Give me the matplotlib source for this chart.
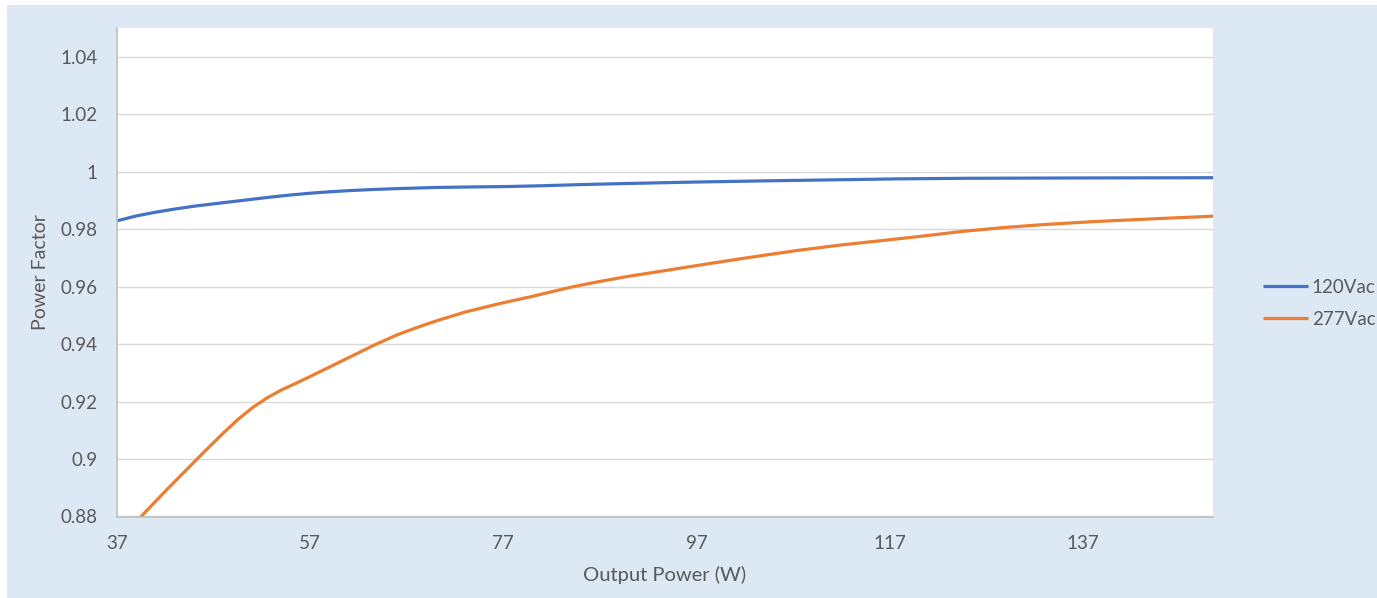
import matplotlib.pyplot as plt
from matplotlib.patches import Rectangle
from matplotlib.ticker import FuncFormatter

plt.rcParams['font.family'] = ['Lato', 'DejaVu Sans']

# power factor vs output power, two input voltages
power_120 = [37, 39, 41, 43, 45, 47.5, 50, 52.5, 55, 57, 59, 61, 63.5, 66, 70, 74, 77,
             81, 85, 90, 97, 104, 110, 118, 125, 135, 150.5]
pf_120 = [0.9829, 0.9846, 0.9859, 0.9870, 0.9880, 0.9890, 0.9900, 0.9910, 0.9919,
          0.9925, 0.9930, 0.9934, 0.9938, 0.9941, 0.9945, 0.9947, 0.9948, 0.9951,
          0.9955, 0.9959, 0.9964, 0.9968, 0.9971, 0.9975, 0.9977, 0.9978, 0.9979]

power_277 = [37, 39.5, 42, 44, 46, 48, 49.5, 51, 52.5, 54, 55.5, 57, 59, 61, 63.6, 66,
             68, 70, 73, 76.5, 80, 84, 87, 90, 94, 97, 101, 104, 107.5, 112, 117, 121,
             124.5, 129, 133, 138, 145, 150.5]
pf_277 = [0.8715, 0.8800, 0.8888, 0.8956, 0.9024, 0.9090, 0.9137, 0.9178, 0.9212,
          0.9240, 0.9263, 0.9287, 0.9320, 0.9353, 0.9396, 0.9432, 0.9457, 0.9480,
          0.9511, 0.9540, 0.9566, 0.9598, 0.9618, 0.9636, 0.9657, 0.9673, 0.9694,
          0.9709, 0.9726, 0.9745, 0.9763, 0.9778, 0.9792, 0.9806, 0.9816, 0.9826,
          0.9837, 0.9845]

x_ticks = [37, 57, 77, 97, 117, 137]
y_ticks = [0.88, 0.90, 0.92, 0.94, 0.96, 0.98, 1.00, 1.02, 1.04]

W, H = 1377, 598
fig = plt.figure(figsize=(W / 100, H / 100), dpi=100, facecolor='white')
fig.patches.append(Rectangle((7 / W, 0), 1 - 7 / W, 1 - 5 / H, transform=fig.transFigure,
                             facecolor='#dde8f5', edgecolor='none', zorder=-10))

ax = fig.add_axes([117 / W, 1 - 516.5 / H, (1213 - 117) / W, (516.5 - 28) / H])
ax.set_facecolor('white')

ax.plot(power_120, pf_120, color='#4472C4', lw=2.3, label='120Vac', solid_capstyle='butt')
ax.plot(power_277, pf_277, color='#ED7D31', lw=2.3, label='277Vac', solid_capstyle='butt')

ax.set_xlim(37, 150.5)
ax.set_ylim(0.88, 1.05)
ax.set_xticks(x_ticks)
ax.set_yticks(y_ticks)
ax.yaxis.set_major_formatter(FuncFormatter(lambda v, p: f'{v:.2f}'.rstrip('0').rstrip('.')))
ax.grid(axis='y', color='#d9d9d9', lw=1)
ax.set_axisbelow(True)

for s in ['top', 'right']:
    ax.spines[s].set_visible(False)
for s in ['left', 'bottom']:
    ax.spines[s].set_color('#bfbfbf')
    ax.spines[s].set_linewidth(1.2)

ax.tick_params(axis='both', length=0, labelsize=13.5, labelcolor='#595959')
ax.tick_params(axis='y', pad=14)
ax.tick_params(axis='x', pad=13)

ax.set_xlabel('Output Power (W)', fontsize=14.5, color='#595959', labelpad=10)
ax.set_ylabel('Power Factor', fontsize=14, color='#595959', labelpad=8)

ax.legend(loc='center left', bbox_to_anchor=(1263 / W, 1 - 303.5 / H),
          bbox_transform=fig.transFigure, frameon=False, fontsize=13.5,
          labelcolor='#595959', handlelength=2.4, handletextpad=0.2, labelspacing=0.8,
          borderpad=0, borderaxespad=0)

fig.savefig('out.png', dpi=100, facecolor='white')
